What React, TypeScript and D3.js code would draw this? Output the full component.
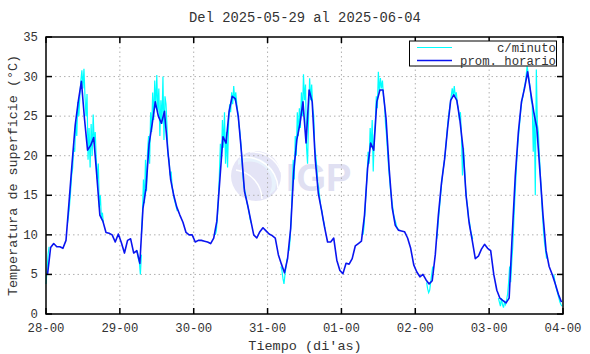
import React from 'react';
import * as d3 from 'd3';

// day tick labels (28 May 00h .. 04 Jun 00h)
const dayLabels = ['28-00', '29-00', '30-00', '31-00', '01-00', '02-00', '03-00', '04-00'];
const yTicks = [0, 5, 10, 15, 20, 25, 30, 35];

// hourly mean (values at hh:30), one row per day
const hourly28 = [5.0, 8.4, 8.9, 8.5, 8.5, 8.3, 9.3, 14.2, 19.2, 23.9, 26.9, 29.4, 24.7, 20.7, 21.3, 22.3, 17.5, 12.5, 11.7, 10.3, 10.2, 10.0, 9.1, 10.1];
const hourly29 = [9.0, 7.7, 9.3, 9.5, 7.7, 8.0, 6.4, 13.3, 15.9, 21.5, 24.0, 26.8, 25.0, 24.1, 25.6, 21.0, 17.0, 15.0, 13.5, 12.5, 11.6, 10.3, 10.0, 10.0];
const hourly30 = [9.1, 9.3, 9.3, 9.2, 9.1, 8.9, 9.6, 11.7, 17.0, 22.4, 21.6, 25.6, 27.5, 27.2, 24.9, 20.5, 15.5, 13.8, 11.9, 10.0, 9.6, 10.4, 10.9, 10.5];
const hourly31 = [10.1, 9.9, 9.6, 7.5, 6.3, 5.2, 7.0, 10.8, 18.0, 22.0, 24.0, 26.8, 21.6, 28.3, 26.8, 19.5, 15.2, 13.2, 11.0, 9.1, 9.1, 9.6, 6.8, 5.5];
const hourly01 = [5.1, 6.4, 6.3, 7.0, 8.6, 8.9, 9.2, 12.5, 18.4, 21.6, 20.7, 26.8, 28.3, 28.3, 24.7, 18.4, 13.4, 11.2, 10.6, 10.5, 10.4, 9.6, 8.3, 6.2];
const hourly02 = [5.3, 4.7, 5.0, 4.3, 3.8, 4.2, 7.5, 12.5, 16.5, 19.5, 23.5, 27.0, 27.7, 27.0, 24.5, 21.0, 15.0, 11.5, 9.3, 7.0, 7.3, 8.2, 8.8, 8.3];
const hourly03 = [8.0, 5.0, 3.0, 2.0, 1.7, 1.4, 2.0, 10.0, 17.5, 23.0, 26.8, 28.5, 30.6, 28.0, 25.5, 23.5, 18.0, 12.5, 8.0, 6.0, 5.0, 3.8, 2.5, 1.5];

// per-minute readings, sampled every 20 min from 07:00 to 18:40 each day
const minute28 = [11.5, 12.5, 13.8, 15.5, 17.5, 18.5, 21.0, 20.5, 24.5, 22.5, 26.8, 25.0, 27.5, 29.5, 30.8, 28.5, 31.0, 27.5, 25.0, 27.8, 19.5, 23.5, 18.5, 24.0, 20.0, 25.2, 21.5, 23.0, 19.5, 17.0, 19.0, 13.5, 15.0, 12.0, 12.8, 11.5];
const minute29 = [10.0, 12.5, 17.0, 14.0, 19.5, 15.5, 20.5, 22.5, 19.0, 25.5, 23.0, 28.0, 24.5, 29.5, 26.0, 30.2, 25.5, 28.5, 22.5, 27.0, 24.0, 30.0, 22.0, 27.5, 26.5, 23.5, 20.0, 19.5, 17.5, 18.0, 16.0, 15.5, 14.5, 14.0, 13.5, 13.0];
const minute30 = [10.0, 10.5, 12.0, 14.5, 17.5, 21.5, 19.5, 24.5, 21.0, 25.5, 19.0, 23.0, 18.5, 24.0, 26.5, 25.5, 28.0, 26.5, 28.8, 27.0, 28.0, 26.5, 25.5, 24.0, 23.0, 21.5, 19.5, 17.5, 16.0, 15.5, 14.8, 14.0, 13.5, 12.8, 12.0, 11.5];
const minute31 = [8.0, 9.5, 12.0, 15.5, 19.5, 17.0, 22.5, 20.0, 25.5, 22.5, 26.0, 23.5, 28.0, 25.0, 30.3, 27.0, 29.0, 21.0, 19.0, 25.0, 29.8, 27.0, 29.0, 26.0, 25.0, 21.0, 20.0, 18.5, 16.5, 15.8, 14.5, 13.5, 13.0, 12.0, 11.5, 10.8];
const minute01 = [10.0, 11.0, 13.0, 15.5, 17.5, 20.5, 19.0, 23.5, 21.0, 24.5, 18.0, 22.5, 24.0, 27.5, 26.0, 30.6, 28.0, 29.8, 28.5, 29.5, 27.5, 26.5, 24.0, 22.5, 20.5, 18.5, 17.0, 15.5, 14.5, 13.5, 12.5, 12.0, 11.5, 11.0, 10.8, 10.6];
const minute02 = [9.5, 11.0, 12.5, 14.0, 15.5, 17.0, 18.0, 19.0, 20.0, 21.5, 23.0, 24.5, 25.5, 26.5, 27.5, 28.5, 27.5, 28.8, 27.5, 28.0, 26.5, 26.0, 24.5, 25.5, 22.5, 17.5, 21.0, 18.5, 16.0, 14.5, 13.5, 12.0, 11.5, 10.5, 10.0, 9.5];
const minute03 = [4.0, 6.5, 8.5, 11.5, 14.5, 17.0, 19.5, 21.5, 23.0, 24.5, 26.0, 27.0, 27.5, 28.5, 29.0, 30.0, 31.3, 30.5, 29.5, 28.5, 27.0, 26.5, 20.5, 25.5, 15.0, 30.9, 24.0, 23.0, 20.0, 17.5, 15.0, 12.5, 10.5, 9.0, 8.0, 7.0];

// night stretches of per-minute readings (day index, start hour, 20-min samples)
const nightStart = [[0, 0], [1, 5.67], [3, 4.33], [5, 3.67], [6, 3.0], [6, 21.0]];
const night0 = [3.8, 5.5, 7.5, 8.5];
const night1 = [8.0, 7.0, 6.5, 5.0, 7.5];
const night2 = [6.0, 5.5, 4.5, 3.8, 5.0, 6.0, 7.0];
const night3 = [4.0, 3.2, 2.7, 3.0, 4.0, 5.0, 6.0];
const night4 = [2.0, 1.5, 1.0, 2.0, 1.2, 0.8, 1.5, 1.2, 1.8, 2.5, 4.0, 6.0];
const night5 = [5.0, 4.2, 3.5, 3.0, 2.5, 2.0, 1.5, 1.2, 1.0];

const hourlyDays = [hourly28, hourly29, hourly30, hourly31, hourly01, hourly02, hourly03];
const minuteDays = [minute28, minute29, minute30, minute31, minute01, minute02, minute03];
const nights = [night0, night1, night2, night3, night4, night5];

const W = 590;
const H = 354;
const margin = { top: 37, right: 27, bottom: 40, left: 46 };
const mono = '"Liberation Mono", "DejaVu Sans Mono", monospace';

type Pt = { t: number; v: number };

export default function App() {
  const x = d3.scaleLinear().domain([0, 7]).range([margin.left, W - margin.right]);
  const y = d3.scaleLinear().domain([0, 35]).range([H - margin.bottom, margin.top]);

  const hourlyPts: Pt[] = hourlyDays.flatMap((day, d) =>
    day.map((v, h) => ({ t: d + (h + 0.5) / 24, v }))
  );
  const minuteSegs: Pt[][] = minuteDays.map((day, d) =>
    day.map((v, i) => ({ t: d + (7 + i / 3) / 24, v }))
  );
  const nightSegs: Pt[][] = nights.map((vals, k) =>
    vals.map((v, i) => ({ t: nightStart[k][0] + (nightStart[k][1] + i / 3) / 24, v }))
  );

  const line = d3.line<Pt>().x(p => x(p.t)).y(p => y(p.v));

  const x0 = x(0), x1 = x(7), y0 = y(0), y1 = y(35);
  const tick = 6;

  return (
    <svg width={W} height={H} style={{ position: 'absolute', left: 0, top: 0, background: '#fff' }}>
      <rect width={W} height={H} fill="#fff" />

      {/* watermark */}
      <g>
        <circle cx={256} cy={176} r={25} fill="#e4e4f6" />
        <path d="M238,160 A26,26 0 0 1 275,190 L268,196 A22,22 0 0 0 238,165 Z" fill="#e8f2fc" />
        <path d="M236,170 A30,30 0 0 1 262,199" fill="none" stroke="#fff" strokeWidth={1.5} />
        <path d="M240,158 A32,32 0 0 1 278,188" fill="none" stroke="#fff" strokeWidth={1.5} />
        <path d="M250,152 A30,30 0 0 1 281,172" fill="none" stroke="#fff" strokeWidth={1.5} />
        <text x={286} y={191} fontFamily="Liberation Sans, Arial, sans-serif" fontWeight="bold" fontSize={38} fill="#e0e0f2">IGP</text>
      </g>

      {/* grid */}
      <g stroke="#b0b0b0" strokeWidth={1} strokeDasharray="1.5,3">
        {yTicks.slice(1, -1).map(t => (
          <line key={'gy' + t} x1={x0} x2={x1} y1={y(t)} y2={y(t)} />
        ))}
        {dayLabels.slice(1, -1).map((_, i) => (
          <line key={'gx' + i} x1={x(i + 1)} x2={x(i + 1)} y1={y0} y2={y1} />
        ))}
      </g>

      {/* per-minute series */}
      {minuteSegs.concat(nightSegs).map((seg, i) => (
        <path key={'m' + i} d={line(seg) || ''} fill="none" stroke="#00ffff" strokeWidth={1.2} />
      ))}
      {/* hourly mean */}
      <path d={line(hourlyPts) || ''} fill="none" stroke="#0a14f0" strokeWidth={1.6} strokeLinejoin="round" />

      {/* frame and ticks */}
      <rect x={x0} y={y1} width={x1 - x0} height={y0 - y1} fill="none" stroke="#000" strokeWidth={1.5} />
      <g stroke="#000" strokeWidth={1.5}>
        {yTicks.map(t => (
          <g key={'ty' + t}>
            <line x1={x0} x2={x0 + tick} y1={y(t)} y2={y(t)} />
            <line x1={x1} x2={x1 - tick} y1={y(t)} y2={y(t)} />
          </g>
        ))}
        {dayLabels.map((_, i) => (
          <g key={'tx' + i}>
            <line x1={x(i)} x2={x(i)} y1={y0} y2={y0 - tick} />
            <line x1={x(i)} x2={x(i)} y1={y1} y2={y1 + tick} />
          </g>
        ))}
      </g>

      {/* tick labels */}
      <g fontFamily={mono} fontSize={12.3} fill="#333">
        {yTicks.map(t => (
          <text key={'ly' + t} x={x0 - 8} y={y(t) + 4} textAnchor="end">{t}</text>
        ))}
        {dayLabels.map((l, i) => (
          <text key={'lx' + i} x={x(i)} y={y0 + 18} textAnchor="middle">{l}</text>
        ))}
      </g>

      {/* titles */}
      <text x={305} y={22} textAnchor="middle" fontFamily={mono} fontSize={13.8} fill="#333">Del 2025-05-29 al 2025-06-04</text>
      <text x={305} y={350} textAnchor="middle" fontFamily={mono} fontSize={13.5} fill="#333">Tiempo (di'as)</text>
      <text transform={`translate(17,${(y0 + y1) / 2}) rotate(-90)`} textAnchor="middle" fontFamily={mono} fontSize={13.4} fill="#333">Temperatura de superficie (°C)</text>

      {/* legend */}
      <g>
        <rect x={409.5} y={41} width={147} height={25} fill="#fff" stroke="#000" strokeWidth={1} />
        <line x1={417} x2={452} y1={47.5} y2={47.5} stroke="#00ffff" strokeWidth={1} />
        <line x1={417} x2={452} y1={60.5} y2={60.5} stroke="#0a14f0" strokeWidth={1.6} />
        <text x={556} y={51.5} textAnchor="end" fontFamily={mono} fontSize={12.3} fill="#333">c/minuto</text>
        <text x={556} y={64.5} textAnchor="end" fontFamily={mono} fontSize={12.3} fill="#333">prom. horario</text>
      </g>
    </svg>
  );
}
